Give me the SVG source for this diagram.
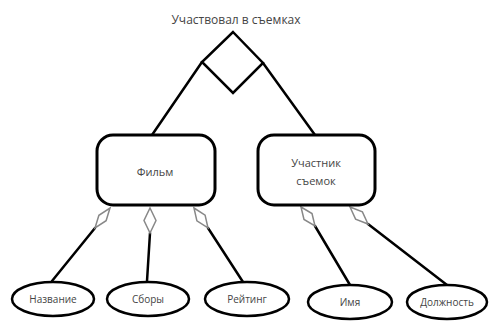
<svg xmlns="http://www.w3.org/2000/svg" width="490" height="322" viewBox="0 0 490 322">
<style>
text{font-family:"Open Sans","Liberation Sans",sans-serif;fill:#444;text-anchor:middle}
.t{font-size:12px}
.n{font-size:11px}
.a{font-size:10px}
.box{fill:#fff;stroke:#000;stroke-width:3}
.ell{fill:#fff;stroke:#000;stroke-width:2.5}
.ln{stroke:#000;stroke-width:2.5;fill:none;stroke-linecap:round}
.dm{fill:#fff;stroke:#888;stroke-width:1.5}
</style>
<rect width="490" height="322" fill="#fff"/>
<g id="connectors">
<polygon class="ln" points="233,32 263,63 233,93 202,62"/>
<line class="ln" x1="202" y1="62" x2="152" y2="135"/>
<line class="ln" x1="263" y1="63" x2="315" y2="135"/>
<line class="ln" x1="95" y1="228" x2="52" y2="281"/>
<line class="ln" x1="150" y1="233" x2="147" y2="281"/>
<line class="ln" x1="208" y1="228" x2="243" y2="282"/>
<line class="ln" x1="315" y1="226" x2="350" y2="285"/>
<line class="ln" x1="368" y1="224" x2="447" y2="285"/>
<polygon class="dm" points="110,208 106.1,220.7 95,228 98.9,215.3"/>
<polygon class="dm" points="150,208 156,220.5 150,233 144,220.5"/>
<polygon class="dm" points="194,208 205.1,215.1 208,228 196.9,220.9"/>
<polygon class="dm" points="301,207 312,213.5 315,226 304,219.5"/>
<polygon class="dm" points="350,207 362.4,211.9 368,224 355.6,219.1"/>
</g>
<g id="relation">
<text class="t" x="236" y="24">Участвовал в съемках</text>
</g>
<g id="film">
<rect class="box" x="97" y="135" width="118" height="70" rx="16"/>
<text class="n" x="155" y="176">Фильм</text>
</g>
<g id="participant">
<rect class="box" x="258" y="135" width="117" height="70" rx="16"/>
<text class="n" x="316" y="167">Участник</text>
<text class="n" x="316" y="185">съемок</text>
</g>
<g id="attr-name">
<ellipse class="ell" cx="53" cy="299" rx="41" ry="17"/>
<text class="a" x="53" y="303">Название</text>
</g>
<g id="attr-box">
<ellipse class="ell" cx="148" cy="299" rx="41" ry="17"/>
<text class="a" x="148" y="303">Сборы</text>
</g>
<g id="attr-rating">
<ellipse class="ell" cx="247" cy="299" rx="42" ry="17"/>
<text class="a" x="247" y="303">Рейтинг</text>
</g>
<g id="attr-nm">
<ellipse class="ell" cx="350" cy="302" rx="42" ry="17"/>
<text class="a" x="350" y="306">Имя</text>
</g>
<g id="attr-pos">
<ellipse class="ell" cx="447" cy="302" rx="40" ry="17"/>
<text class="a" x="447" y="306">Должность</text>
</g>
</svg>
